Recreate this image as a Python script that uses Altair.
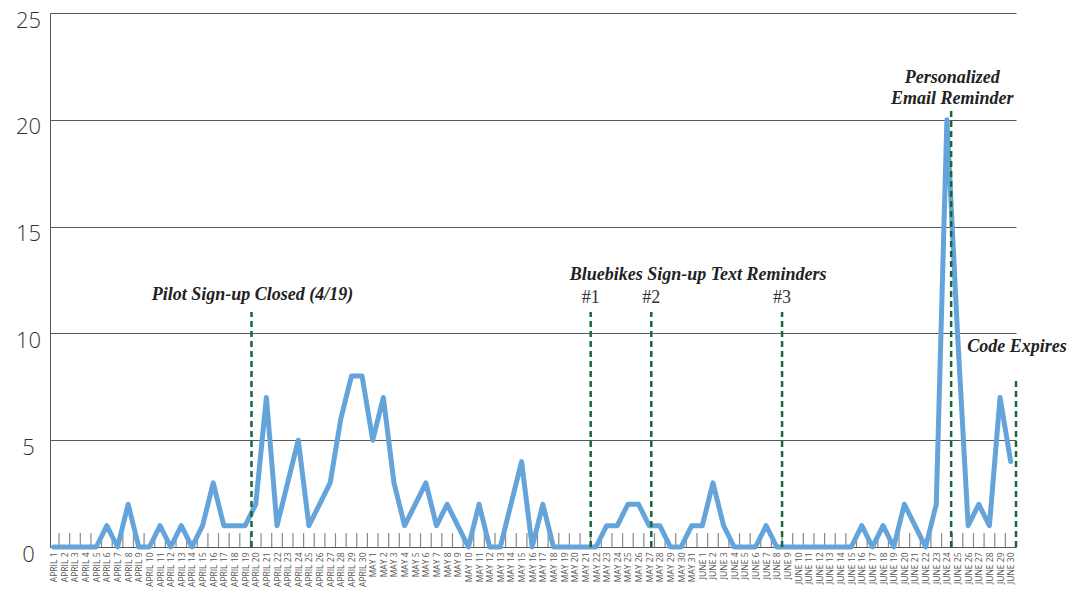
import altair as alt
import pandas as pd

# Daily counts, April 1 .. June 30
april = [0, 0, 0, 0, 0, 1, 0, 2, 0, 0, 1, 0, 1, 0, 1, 3, 1, 1, 1, 2, 7, 1, 3, 5, 1, 2, 3, 6, 8, 8]
may = [5, 7, 3, 1, 2, 3, 1, 2, 1, 0, 2, 0, 0, 2, 4, 0, 2, 0, 0, 0, 0, 0, 1, 1, 2, 2, 1, 1, 0, 0, 1]
june = [1, 3, 1, 0, 0, 0, 1, 0, 0, 0, 0, 0, 0, 0, 0, 1, 0, 1, 0, 2, 1, 0, 2, 20, 10, 1, 2, 1, 7, 4]

day_labels = ([f"APRIL {d}" for d in range(1, 31)]
              + [f"MAY {d}" for d in range(1, 32)]
              + [f"JUNE {d}" for d in range(1, 31)])
counts = april + may + june
day_index = list(range(len(counts)))

# Event markers (position on the day index axis, top of the dashed line)
event_x = [18.6, 50.5, 56.2, 68.5, 84.4, 90.5]
event_top = [11.0, 11.0, 11.0, 11.0, 20.6, 7.8]

# Annotations
bold_texts = ["Pilot Sign-up Closed (4/19)", "Bluebikes Sign-up Text Reminders",
              "Personalized", "Email Reminder", "Code Expires"]
bold_x = [18.7, 60.6, 84.5, 84.5, 90.6]
bold_y = [11.8, 12.73, 21.96, 20.97, 9.36]

num_texts = ["#1", "#2", "#3"]
num_x = [50.5, 56.2, 68.5]
num_y = [11.66, 11.66, 11.66]

y_ticks = [0, 5, 10, 15, 20, 25]

df = pd.DataFrame({"i": day_index, "v": counts})
ticks_df = pd.DataFrame({"t": [i + 0.5 for i in day_index[:-1]]})
ticks_df["y0"] = 0
ticks_df["y1"] = 0.65
ev_df = pd.DataFrame({"x": event_x, "top": event_top, "base": [0] * len(event_x)})
bt_df = pd.DataFrame({"text": bold_texts, "x": bold_x, "y": bold_y})
nt_df = pd.DataFrame({"text": num_texts, "x": num_x, "y": num_y})

label_array = "[" + ",".join(f"'{s}'" for s in day_labels) + "]"

xscale = alt.Scale(domain=[-0.35, 90.5], nice=False, zero=False)
yscale = alt.Scale(domain=[0, 25], nice=False)

x_axis = alt.Axis(values=day_index, labelExpr=f"{label_array}[datum.value]",
                  labelAngle=-90, labelFontSize=8.5, labelFont="Open Sans",
                  labelColor="#555", labelPadding=5, ticks=False, grid=False,
                  domain=True, domainColor="#555", title=None, labelOverlap=False,
                  labelFlush=False, labelBound=False, labelSeparation=0)
y_axis = alt.Axis(values=y_ticks, grid=True, gridColor="#5a5a5a", gridWidth=1,
                  domain=True, domainColor="#555", ticks=False, labelFontSize=22,
                  labelFont="Open Sans", labelFontWeight=300, labelColor="#333",
                  labelAlign="center", labelPadding=22, labelOffset=7, title=None)

ticks = alt.Chart(ticks_df).mark_rule(color="#8a8a8a", strokeWidth=1.2).encode(
    x=alt.X("t:Q", scale=xscale, axis=x_axis),
    y=alt.Y("y0:Q", scale=yscale, axis=y_axis),
    y2="y1:Q",
)

line = alt.Chart(df).mark_line(color="#64a4db", strokeWidth=5,
                               strokeJoin="round", strokeCap="round").encode(
    x=alt.X("i:Q", scale=xscale, axis=x_axis),
    y=alt.Y("v:Q", scale=yscale, axis=y_axis),
)

events = alt.Chart(ev_df).mark_rule(color="#17693a", strokeWidth=2.5,
                                    strokeDash=[6, 4]).encode(
    x=alt.X("x:Q", scale=xscale, axis=x_axis),
    y=alt.Y("base:Q", scale=yscale, axis=y_axis),
    y2="top:Q",
)

bold = alt.Chart(bt_df).mark_text(font="Liberation Serif", fontStyle="italic",
                                  fontWeight="bold", fontSize=18, color="#222",
                                  align="center", baseline="middle").encode(
    x=alt.X("x:Q", scale=xscale, axis=x_axis),
    y=alt.Y("y:Q", scale=yscale, axis=y_axis),
    text="text:N",
)

nums = alt.Chart(nt_df).mark_text(font="Liberation Serif", fontSize=18, color="#333",
                                  align="center", baseline="middle").encode(
    x=alt.X("x:Q", scale=xscale, axis=x_axis),
    y=alt.Y("y:Q", scale=yscale, axis=y_axis),
    text="text:N",
)

chart = alt.layer(ticks, line, events, bold, nums).properties(
    width=966, height=534,
    autosize=alt.AutoSizeParams(type="none"),
    padding={"left": 42, "top": 5, "right": 58, "bottom": 40},
).configure_view(stroke=None).configure_axis(labelOverlap=False)

chart.save("out.html", embed_options={"renderer": "svg", "actions": False})
